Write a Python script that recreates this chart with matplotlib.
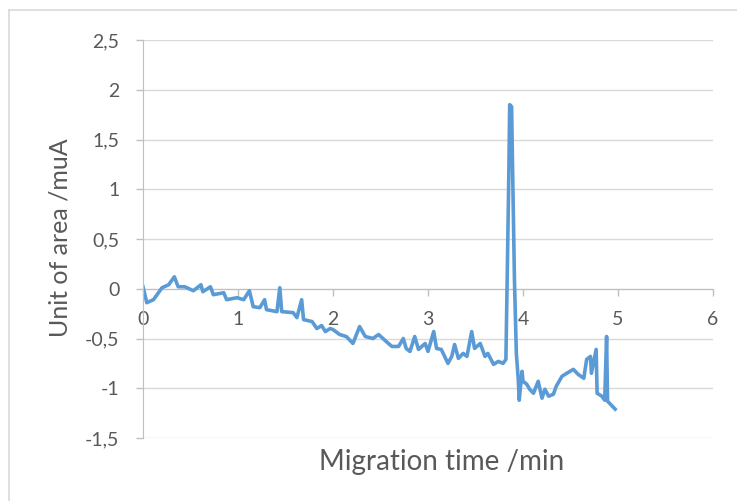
import matplotlib
matplotlib.use("Agg")
import matplotlib.pyplot as plt
from matplotlib.ticker import FuncFormatter, MultipleLocator
from matplotlib.lines import Line2D

# trace (migration time in min, signal)
time_min = [
    0.00, 0.04, 0.11, 0.20, 0.27, 0.33, 0.37, 0.44, 0.53, 0.61, 0.63, 0.71,
    0.74, 0.85, 0.88, 0.99, 1.06, 1.12, 1.16, 1.23, 1.28, 1.30, 1.41, 1.44,
    1.46, 1.58, 1.62, 1.67, 1.69, 1.78, 1.83, 1.88, 1.92, 1.97, 2.00, 2.07,
    2.14, 2.21, 2.28, 2.34, 2.42, 2.48, 2.56, 2.62, 2.69, 2.74, 2.77, 2.81,
    2.86, 2.90, 2.97, 3.00, 3.06, 3.09, 3.14, 3.21, 3.25, 3.28, 3.32, 3.37,
    3.41, 3.46, 3.49, 3.55, 3.60, 3.63, 3.69, 3.74, 3.79, 3.82, 3.85, 3.86,
    3.88, 3.89, 3.91, 3.93, 3.95, 3.96, 3.99, 4.00, 4.04, 4.07, 4.11, 4.16,
    4.20, 4.23, 4.27, 4.32, 4.35, 4.41, 4.46, 4.53, 4.58, 4.64, 4.67, 4.71,
    4.72, 4.77, 4.78, 4.83, 4.86, 4.88, 4.89, 4.93, 4.97,
]
signal = [
    0.02, -0.14, -0.11, 0.01, 0.04, 0.12, 0.02, 0.02, -0.02, 0.04, -0.03, 0.02,
    -0.06, -0.04, -0.11, -0.09, -0.11, -0.02, -0.18, -0.19, -0.11, -0.21, -0.23, 0.01,
    -0.23, -0.24, -0.29, -0.11, -0.31, -0.33, -0.40, -0.37, -0.43, -0.40, -0.41, -0.46,
    -0.48, -0.55, -0.38, -0.48, -0.50, -0.46, -0.53, -0.58, -0.58, -0.50, -0.60, -0.63,
    -0.48, -0.61, -0.55, -0.63, -0.43, -0.60, -0.61, -0.75, -0.68, -0.56, -0.70, -0.65,
    -0.68, -0.43, -0.60, -0.55, -0.68, -0.65, -0.76, -0.73, -0.75, -0.71, 1.10, 1.85,
    1.83, 1.23, 0.09, -0.65, -0.91, -1.12, -0.83, -0.93, -0.96, -1.01, -1.05, -0.93,
    -1.10, -1.01, -1.08, -1.06, -0.98, -0.88, -0.85, -0.81, -0.86, -0.90, -0.71, -0.68,
    -0.85, -0.61, -1.05, -1.08, -1.12, -0.48, -1.13, -1.17, -1.21,
]

plt.rcParams["font.family"] = ["Lato", "DejaVu Sans"]
txt = "#595959"
grid_c = "#D9D9D9"
axis_c = "#BFBFBF"

fig = plt.figure(figsize=(7.37, 5.01), dpi=100)
ax = fig.add_axes([143 / 737, 1 - 438 / 501, 570 / 737, 398 / 501])

ax.plot(time_min, signal, color="#5B9BD5", linewidth=2.6, solid_joinstyle="round")

ax.set_xlim(0, 6)
ax.set_ylim(-1.5, 2.5)
ax.xaxis.set_major_locator(MultipleLocator(1))
ax.yaxis.set_major_locator(MultipleLocator(0.5))
comma = FuncFormatter(lambda v, p: f"{v:g}".replace(".", ","))
ax.xaxis.set_major_formatter(comma)
ax.yaxis.set_major_formatter(comma)

ax.grid(axis="y", color=grid_c, linewidth=1.0)
ax.set_axisbelow(True)
for s in ["top", "right"]:
    ax.spines[s].set_visible(False)
ax.spines["bottom"].set_position(("data", 0))
ax.spines["bottom"].set_color(axis_c)
ax.spines["left"].set_color(axis_c)
ax.spines["bottom"].set_zorder(1)
ax.tick_params(axis="x", direction="out", length=5, width=1, color=axis_c,
               labelsize=14, labelcolor=txt, pad=11)
ax.tick_params(axis="y", direction="out", length=5, width=1, color=axis_c,
               labelsize=14, labelcolor=txt, pad=12)

fig.text(60 / 737, 1 - 238 / 501, "Unit of area /muA", rotation=90,
         ha="center", va="center", fontsize=18, color=txt)
fig.text(442 / 737, 1 - 462 / 501, "Migration time /min",
         ha="center", va="center", fontsize=20, color=txt)

# chart frame (only top and left edges show in the crop)
fig.add_artist(Line2D([9 / 737, 1], [1 - 10 / 501, 1 - 10 / 501], color=grid_c,
                      linewidth=1.2, transform=fig.transFigure))
fig.add_artist(Line2D([9 / 737, 9 / 737], [0, 1 - 10 / 501], color=grid_c,
                      linewidth=1.2, transform=fig.transFigure))

fig.savefig("out.png", dpi=100)
